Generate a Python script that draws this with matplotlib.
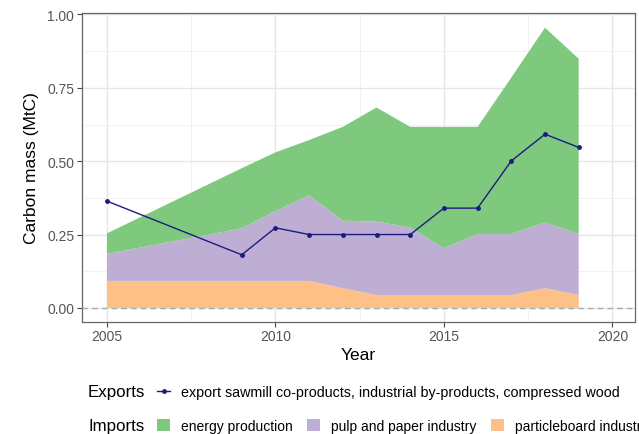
import numpy as np
import matplotlib
matplotlib.use("Agg")
import matplotlib.pyplot as plt
from matplotlib.lines import Line2D
from matplotlib.patches import Patch
from matplotlib.ticker import MultipleLocator

plt.rcParams['font.family'] = ['Liberation Sans', 'DejaVu Sans']

########################################
#   Data
########################################

years = [2005, 2009, 2010, 2011, 2012, 2013, 2014, 2015, 2016, 2017, 2018, 2019]
exports = [0.364, 0.181, 0.273, 0.250, 0.250, 0.250, 0.250, 0.340, 0.340, 0.501, 0.592, 0.547]
particleboard = [0.092, 0.092, 0.092, 0.092, 0.067, 0.044, 0.044, 0.044, 0.044, 0.044, 0.067, 0.044]
pulp_paper = [0.092, 0.179, 0.238, 0.292, 0.230, 0.250, 0.230, 0.159, 0.208, 0.208, 0.224, 0.208]
energy = [0.070, 0.205, 0.200, 0.188, 0.320, 0.389, 0.343, 0.414, 0.365, 0.533, 0.664, 0.597]

import_labels = ["energy production", "pulp and paper industry", "particleboard industry"]
export_label = "export sawmill co-products, industrial by-products, compressed wood"
colors = ["#7fc97f", "#beaed4", "#fdc086"]
line_color = "#1c1c80"

########################################
#   Plot
########################################

fig = plt.figure(figsize=(6.39, 4.35), dpi=100)
ax = fig.add_axes([0.1283, 0.2582, 0.8654, 0.7096])

# stacked areas: particleboard at the bottom, energy on top
ax.stackplot(years, particleboard, pulp_paper, energy,
             colors=[colors[2], colors[1], colors[0]], linewidth=0, zorder=2)
ax.axhline(0, color="#aaaaaa", linestyle=(0, (4, 3)), linewidth=1, zorder=3)
ax.plot(years, exports, color=line_color, linewidth=1, marker="o",
        markersize=2.5, zorder=4)

ax.set_xlim(2004.26, 2020.67)
ax.set_ylim(-0.047, 1.005)
ax.xaxis.set_major_locator(MultipleLocator(5))
ax.xaxis.set_minor_locator(MultipleLocator(2.5))
ax.yaxis.set_major_locator(MultipleLocator(0.25))
ax.yaxis.set_minor_locator(MultipleLocator(0.125))
ax.yaxis.set_major_formatter(matplotlib.ticker.FormatStrFormatter('%.2f'))

ax.grid(which='major', color="#e6e6e6", linewidth=1.0, zorder=0)
ax.grid(which='minor', color="#f0f0f0", linewidth=0.6, zorder=0)
ax.set_axisbelow(True)
ax.tick_params(which='major', length=3.5, width=0.8, color="#444444",
               labelsize=10, labelcolor="#555555", pad=2)
ax.tick_params(which='minor', length=0)
for s in ax.spines.values():
    s.set_color("#666666")
    s.set_linewidth(0.9)

ax.set_xlabel("Year", fontsize=12.5, labelpad=3)
ax.set_ylabel("Carbon mass (MtC)", fontsize=12.5, labelpad=6)

# legend rows, ggplot style (title to the left of the keys)
fig.text(88 / 639, 1 - 393 / 435, "Exports", fontsize=12.2, va="center", ha="left")
fig.text(88 / 639, 1 - 427 / 435, "Imports", fontsize=12.2, va="center", ha="left")

exp_handle = [Line2D([0], [0], color=line_color, linewidth=1, marker="o", markersize=2.5)]
leg1 = fig.legend(exp_handle, [export_label], loc="center left",
                  bbox_to_anchor=(157 / 639, 1 - 393 / 435), frameon=False,
                  fontsize=10.25, handlelength=0.92, handletextpad=0.75,
                  borderpad=0, borderaxespad=0)

imp_handles = [Patch(facecolor=c, edgecolor="none") for c in colors]
leg2 = fig.legend(imp_handles, import_labels, loc="center left",
                  bbox_to_anchor=(157 / 639, 1 - 427 / 435), frameon=False,
                  fontsize=10, ncol=3, handlelength=0.94, handleheight=0.94,
                  handletextpad=0.77, columnspacing=1.05,
                  borderpad=0, borderaxespad=0)

plt.savefig("out.png", dpi=100)
